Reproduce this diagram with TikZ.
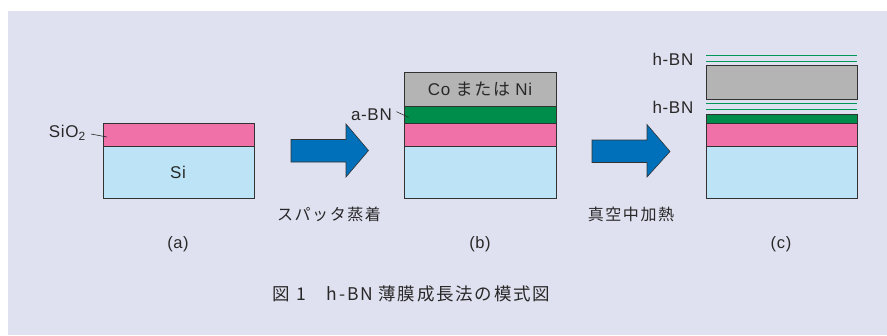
\documentclass[tikz,border=0pt]{standalone}
\usepackage{fontspec}
\setmainfont{Liberation Sans}
\newfontfamily\jp[LetterSpace=10]{Noto Sans CJK JP}
\newfontfamily\lat[LetterSpace=4]{Liberation Sans}
\definecolor{bg}{RGB}{224,225,240}
\definecolor{pinkL}{RGB}{240,112,168}
\definecolor{siB}{RGB}{189,227,247}
\definecolor{grnL}{RGB}{0,140,75}
\definecolor{gryL}{RGB}{180,180,180}
\definecolor{arrB}{RGB}{0,112,187}
\definecolor{hbn}{RGB}{0,150,85}
\definecolor{edge}{RGB}{50,50,50}
\definecolor{txt}{RGB}{40,40,40}
\begin{document}
\begin{tikzpicture}[x=1pt,y=-1pt,
  layer/.style={draw=edge,line width=0.9pt},
  hline/.style={draw=hbn,line width=1.3pt},
  bigarrow/.style={fill=arrB,draw=edge,line width=0.6pt},
  lbl/.style={text=txt,inner sep=0pt,font=\lat\fontsize{17}{19}\selectfont},
  jlbl/.style={text=txt,inner sep=0pt,font=\jp\fontsize{16}{18}\selectfont},
  sub/.style={text=txt,inner sep=0pt,font=\lat\fontsize{16.5}{18}\selectfont},
  leader/.style={draw=txt,line width=0.6pt}]
\useasboundingbox (0,0) rectangle (887,335);
\fill[bg] (8,11) rectangle (887,335);
% panel (a)
\path[layer,fill=pinkL] (103,123) rectangle (254,146);
\path[layer,fill=siB] (103,146) rectangle (254,198.5);
\node[lbl] (si) at (178,172) {Si};
\node[lbl,anchor=east] (sio2) at (86,133) {SiO\textsubscript{2}};
\coordinate (sioE) at (107,137);
\draw[leader] (91,134) -- (sioE);
% arrow 1
\path[bigarrow] (291,139.5) -- (346,139.5) -- (346,124) -- (368.5,150.5) -- (346,177) -- (346,162) -- (291,162) -- cycle;
\node[jlbl] (sp) at (329,214) {スパッタ蒸着};
% panel (b)
\path[layer,fill=gryL] (404,72.5) rectangle (556,106);
\path[layer,fill=grnL] (404,106) rectangle (556,123);
\path[layer,fill=pinkL] (404,123) rectangle (556,146);
\path[layer,fill=siB] (404,146) rectangle (556,198.5);
\node[lbl] (coni) at (480,89) {Co {\jp または} Ni};
\node[lbl,anchor=east] (abn) at (392,115) {a-BN};
\coordinate (abnE) at (408.5,117.3);
\draw[leader] (396.5,111.7) -- (abnE);
% arrow 2
\path[bigarrow] (592,140) -- (647,140) -- (647,124.5) -- (670,151.5) -- (647,177) -- (647,162.5) -- (592,162.5) -- cycle;
\node[jlbl] (vh) at (631,214) {真空中加熱};
% panel (c)
\draw[hline] (706,55.5) -- (857,55.5);
\draw[hline] (706,61.5) -- (857,61.5);
\path[layer,fill=gryL] (706,65.5) rectangle (857,99.5);
\draw[hline] (706,103.5) -- (857,103.5);
\draw[hline] (706,109.5) -- (857,109.5);
\path[layer,fill=grnL] (706,114) rectangle (857,123.5);
\path[layer,fill=pinkL] (706,123.5) rectangle (857,146);
\path[layer,fill=siB] (706,146) rectangle (857,198.5);
\node[lbl,anchor=east] (hbn1) at (693.5,59) {h-BN};
\node[lbl,anchor=east] (hbn2) at (693.5,107) {h-BN};
% sub labels
\node[sub] (la) at (178,244) {(a)};
\node[sub] (lb) at (480,244) {(b)};
\node[sub] (lc) at (781,244) {(c)};
% caption
\node[text=txt,inner sep=0pt,font=\jp\fontsize{17.5}{20}\selectfont] (cap) at (411.5,294) {図 1　h-BN 薄膜成長法の模式図};
\end{tikzpicture}
\end{document}
